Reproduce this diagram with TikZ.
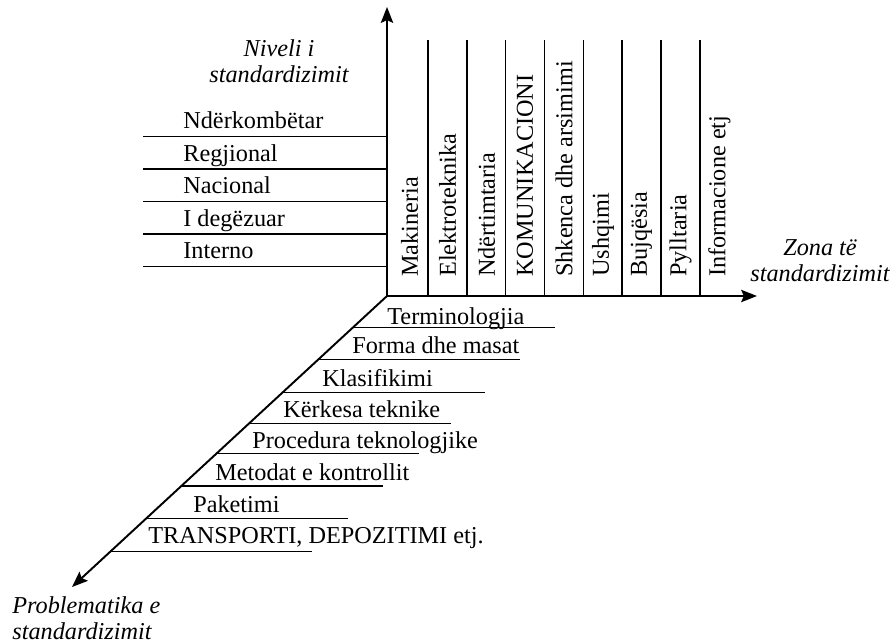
\documentclass[tikz,border=0pt]{standalone}
\usepackage{fontspec}
\setmainfont{Liberation Serif}
\usetikzlibrary{arrows.meta}
\tikzset{
    axisline/.style = {line width = 1.1pt, -{Stealth[length = 9pt, width = 7pt, inset = 1.5pt]}},
    rowline/.style = {line width = 0.9pt},
    lbl/.style = {inner sep = 0pt, font = \fontsize{13.8}{14.8}\selectfont},
    axislbl/.style = {lbl, font = \fontsize{13.8}{14.8}\selectfont\itshape, align = center}
}
\begin{document}
\begin{tikzpicture}
            \useasboundingbox (-7.74,-6.92) rectangle (10.14,5.92);
            \coordinate (O) at (0,0);
            \coordinate (ytip) at (0,5.78);
            \coordinate (xtip) at (7.4,0);
            \coordinate (ztip) at (-6.3,-5.82);
            \begin{scope}
                \foreach \y [count = \i] in {0.59, 1.24, 1.89, 2.54, 3.19} {
                    \coordinate (lev\i) at (-4.88,\y);
                    \draw[rowline] (lev\i) -- (0,\y);
                }
                \foreach \y/\t [count = \i] in {0.75/Interno, 1.40/I degëzuar, 2.05/Nacional, 2.70/Regjional, 3.35/Ndërkombëtar} {
                    \node[lbl, anchor = base west] (levname\i) at (-4.08,\y) {\t};
                }
            \end{scope}
            \begin{scope}
                \foreach \x in {0.82, 1.597, 2.374, 3.151, 3.928, 4.705, 5.482, 6.259} {
                    \draw[rowline] (\x,0) -- (\x,5.12);
                }
                \foreach \x/\t [count = \i] in {0.45/Makineria, 1.21/Elektroteknika, 1.99/Ndërtimtaria, 2.76/KOMUNIKACIONI, 3.54/Shkenca dhe arsimimi, 4.32/Ushqimi, 5.09/Bujqësia, 5.87/Pylltaria, 6.65/Informacione etj} {
                    \node[lbl, rotate = 90, anchor = west] (zone\i) at (\x,0.38) {\t};
                }
            \end{scope}
            \begin{scope}
                \foreach \y/\x/\b/\t [count = \i] in {-0.63/0/-0.56/Terminologjia, -1.27/-0.7/-1.14/Forma dhe masat, -1.93/-1.3/-1.8/Klasifikimi, -2.55/-2.08/-2.42/Kërkesa teknike, -3.15/-2.7/-3.04/Procedura teknologjike, -3.80/-3.44/-3.68/Metodat e kontrollit, -4.45/-3.88/-4.32/Paketimi, -5.11/-4.78/-4.94/{TRANSPORTI, DEPOZITIMI etj.}} {
                    \draw[rowline] (\y*1.0825,\y) -- (\y*1.0825+4.04,\y);
                    \node[lbl, anchor = base west] (prob\i) at (\x,\b) {\t};
                }
            \end{scope}
            \draw[axisline] (O) -- (ytip);
            \draw[axisline] (O) -- (xtip);
            \draw[axisline] (O) -- (ztip);
            \node[axislbl] (levtitle) at (-2.16,4.69) {Niveli i\\standardizimit};
            \node[axislbl] (zonetitle) at (8.66,0.71) {Zona të\\standardizimit};
            \node[axislbl, align = left, anchor = west] (probtitle) at (-7.5,-6.44) {Problematika e\\standardizimit};
        \end{tikzpicture}
\end{document}
